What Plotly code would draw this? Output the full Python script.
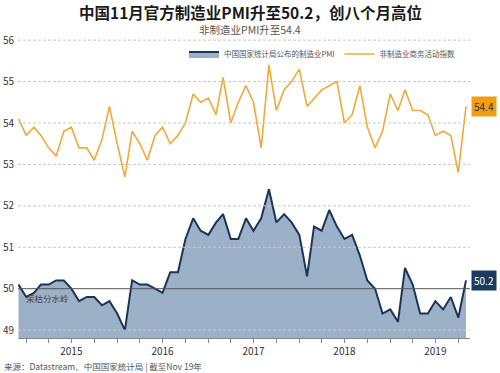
import plotly.graph_objects as go
import pandas as pd

months = pd.date_range("2014-12-01", "2019-11-01", freq="MS")

mfg_pmi = [50.1,
           49.8, 49.9, 50.1, 50.1, 50.2, 50.2, 50.0, 49.7, 49.8, 49.8, 49.6, 49.7,
           49.4, 49.0, 50.2, 50.1, 50.1, 50.0, 49.9, 50.4, 50.4, 51.2, 51.7, 51.4,
           51.3, 51.6, 51.8, 51.2, 51.2, 51.7, 51.4, 51.7, 52.4, 51.6, 51.8, 51.6,
           51.3, 50.3, 51.5, 51.4, 51.9, 51.5, 51.2, 51.3, 50.8, 50.2, 50.0, 49.4,
           49.5, 49.2, 50.5, 50.1, 49.4, 49.4, 49.7, 49.5, 49.8, 49.3, 50.2]

non_mfg_pmi = [54.1,
               53.7, 53.9, 53.7, 53.4, 53.2, 53.8, 53.9, 53.4, 53.4, 53.1, 53.6, 54.4,
               53.5, 52.7, 53.8, 53.5, 53.1, 53.7, 53.9, 53.5, 53.7, 54.0, 54.7, 54.5,
               54.6, 54.2, 55.1, 54.0, 54.5, 54.9, 54.5, 53.4, 55.4, 54.3, 54.8, 55.0,
               55.3, 54.4, 54.6, 54.8, 54.9, 55.0, 54.0, 54.2, 54.9, 53.9, 53.4, 53.8,
               54.7, 54.3, 54.8, 54.3, 54.3, 54.2, 53.7, 53.8, 53.7, 52.8, 54.4]

y_ticks = [49, 50, 51, 52, 53, 54, 55, 56]
years = [2015, 2016, 2017, 2018, 2019]

mfg_name = "中国国家统计局公布的制造业PMI"
non_name = "非制造业商务活动指数"
title_text = "中国11月官方制造业PMI升至50.2，创八个月高位"
subtitle_text = "非制造业PMI升至54.4"
source_text = "来源：Datastream、中国国家统计局 | 截至Nov 19年"
threshold_label = "荣枯分水岭"

FONT = "Noto Sans CJK SC"
NAVY = "#1c3557"
FILL = "#9cb0c8"
ORANGE = "#eeaa3a"

# quarterly ticks, labels at mid-year
tickvals, ticktext = [], []
for y in years:
    for m in (1, 4, 7, 10):
        tickvals.append(pd.Timestamp(y, m, 1))
        ticktext.append(str(y) if m == 7 else "")

fig = go.Figure()
fig.add_trace(go.Scatter(
    x=months, y=mfg_pmi, name=mfg_name, mode="lines",
    line=dict(color=NAVY, width=2), fill="tozeroy", fillcolor=FILL,
))
fig.add_trace(go.Scatter(
    x=months, y=non_mfg_pmi, name=non_name, mode="lines",
    line=dict(color=ORANGE, width=1.6),
))

shapes = []
for v in y_ticks:
    if v == 50:
        shapes.append(dict(type="line", xref="paper", yref="y", x0=0, x1=1, y0=v, y1=v,
                           line=dict(color="#555555", width=1), layer="above"))
    else:
        shapes.append(dict(type="line", xref="paper", yref="y", x0=0, x1=1, y0=v, y1=v,
                           line=dict(color="#c8c8c8", width=1, dash="3px,2px"), layer="above"))

H, W = 373, 500
L, R, T, B = 18, 30, 36, 35
ph, pw = H - T - B, W - L - R
def py(pix):  # pixel y from top -> paper
    return (H - B - pix) / ph
def px(pix):
    return (pix - L) / pw

annotations = [
    dict(text=f"<b>{title_text}</b>", x=px(250), y=py(12), xref="paper", yref="paper",
         xanchor="center", yanchor="middle", showarrow=False,
         font=dict(family=FONT, size=15.5, color="#1a1a1a")),
    dict(text=subtitle_text, x=px(250), y=py(30), xref="paper", yref="paper",
         xanchor="center", yanchor="middle", showarrow=False,
         font=dict(family=FONT, size=10.5, color="#555555")),
    dict(text=source_text, x=px(2), y=py(366), xref="paper", yref="paper",
         xanchor="left", yanchor="middle", showarrow=False,
         font=dict(family=FONT, size=8.5, color="#555555")),
    dict(text=threshold_label, x=months[0], y=50, xref="x", yref="y", showarrow=False,
         xanchor="left", yanchor="top", xshift=5, yshift=-1,
         font=dict(family=FONT, size=8.5, color="#444444")),
    dict(text=f"{non_mfg_pmi[-1]}", x=months[-1], y=non_mfg_pmi[-1], xref="x", yref="y",
         showarrow=False, xanchor="left", xshift=5, bgcolor="#f29d16",
         font=dict(family=FONT, size=10, color="#333333"), borderpad=2),
    dict(text=f"{mfg_pmi[-1]}", x=months[-1], y=mfg_pmi[-1], xref="x", yref="y",
         showarrow=False, xanchor="left", xshift=5, bgcolor="#1a3a60",
         font=dict(family=FONT, size=10, color="#ffffff"), borderpad=2),
]

fig.update_layout(
    width=W, height=H,
    margin=dict(l=L, r=R, t=T, b=B, autoexpand=False),
    paper_bgcolor="white", plot_bgcolor="white",
    font=dict(family=FONT, color="#333333"),
    showlegend=True,
    legend=dict(orientation="h", x=px(184), y=py(54), xanchor="left", yanchor="middle",
                font=dict(family=FONT, size=7.5, color="#555555"), bgcolor="rgba(0,0,0,0)",
                itemwidth=30, tracegroupgap=0),
    shapes=shapes,
    annotations=annotations,
    xaxis=dict(
        range=[months[0] - pd.Timedelta(days=2), months[-1] + pd.Timedelta(days=16)],
        tickvals=tickvals, ticktext=ticktext, ticks="outside", ticklen=4,
        tickcolor="#888888", showline=True, linecolor="#888888", linewidth=1,
        showgrid=False, zeroline=False, tickfont=dict(family=FONT, size=10, color="#333333"),
    ),
    yaxis=dict(
        range=[48.81, 56.1], tickvals=y_ticks, showgrid=False, zeroline=False,
        showline=False, ticks="", ticklabelstandoff=3,
        tickfont=dict(family=FONT, size=10, color="#333333"),
    ),
)

fig.write_html("out.html", config={"displayModeBar": False},
               post_script="document.body.style.margin='0px';document.body.style.overflow='hidden';")
